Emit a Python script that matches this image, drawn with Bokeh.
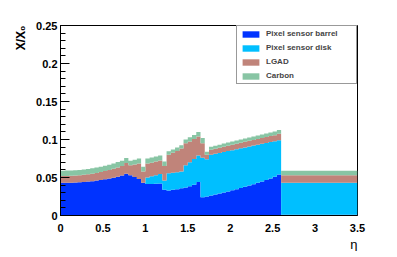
import numpy as np
from bokeh.plotting import figure
from bokeh.models import FixedTicker, Legend, LegendItem, Title, Range1d
from bokeh.embed import file_html
from bokeh.resources import INLINE

# eta binning
eta_min, eta_max, bin_width = 0.0, 3.5, 0.05

# material budget per layer (X/X0) in each eta bin
barrel = [0.0430, 0.0431, 0.0432, 0.0434, 0.0437, 0.0441, 0.0446, 0.0452, 0.0459, 0.0467,
          0.0476, 0.0486, 0.0497, 0.0510, 0.0525, 0.0550, 0.0530, 0.0505, 0.0480, 0.0430,
          0.0415, 0.0415, 0.0417, 0.0420, 0.0340, 0.0330, 0.0338, 0.0347, 0.0357, 0.0370,
          0.0385, 0.0405, 0.0440, 0.0240, 0.0250, 0.0262, 0.0275, 0.0288, 0.0302, 0.0316,
          0.0331, 0.0346, 0.0362, 0.0378, 0.0395, 0.0412, 0.0430, 0.0449, 0.0468, 0.0488,
          0.0510, 0.0540, 0.0010, 0.0010, 0.0010, 0.0010, 0.0010, 0.0010, 0.0010, 0.0010,
          0.0010, 0.0010, 0.0010, 0.0010, 0.0010, 0.0010, 0.0010, 0.0010, 0.0010, 0.0010]
disk = [0.0, 0.0, 0.0, 0.0, 0.0, 0.0, 0.0, 0.0, 0.0, 0.0,
        0.0, 0.0, 0.0, 0.0, 0.0, 0.0, 0.0, 0.0, 0.0, 0.0,
        0.0085, 0.0100, 0.0113, 0.0125, 0.0120, 0.0225, 0.0224, 0.0223, 0.0223, 0.0290,
        0.0315, 0.0340, 0.0350, 0.0520, 0.0490, 0.0538, 0.0537, 0.0536, 0.0534, 0.0532,
        0.0529, 0.0526, 0.0522, 0.0518, 0.0513, 0.0508, 0.0502, 0.0495, 0.0487, 0.0478,
        0.0467, 0.0450, 0.0420, 0.0420, 0.0420, 0.0420, 0.0420, 0.0420, 0.0420, 0.0420,
        0.0420, 0.0420, 0.0420, 0.0420, 0.0420, 0.0420, 0.0420, 0.0420, 0.0420, 0.0420]
lgad = [0.0090, 0.0090, 0.0091, 0.0092, 0.0093, 0.0094, 0.0096, 0.0098, 0.0101, 0.0104,
        0.0108, 0.0112, 0.0117, 0.0122, 0.0127, 0.0140, 0.0130, 0.0167, 0.0205, 0.0150,
        0.0185, 0.0180, 0.0180, 0.0180, 0.0190, 0.0245, 0.0263, 0.0280, 0.0300, 0.0290,
        0.0275, 0.0260, 0.0250, 0.0190, 0.0060, 0.0065, 0.0066, 0.0067, 0.0068, 0.0069,
        0.0070, 0.0071, 0.0072, 0.0073, 0.0074, 0.0075, 0.0076, 0.0077, 0.0078, 0.0079,
        0.0080, 0.0085, 0.0100, 0.0100, 0.0100, 0.0100, 0.0100, 0.0100, 0.0100, 0.0100,
        0.0100, 0.0100, 0.0100, 0.0100, 0.0100, 0.0100, 0.0100, 0.0100, 0.0100, 0.0100]
carbon = [0.0070, 0.0070, 0.0070, 0.0070, 0.0070, 0.0071, 0.0071, 0.0071, 0.0071, 0.0071,
          0.0071, 0.0071, 0.0071, 0.0071, 0.0070, 0.0065, 0.0060, 0.0063, 0.0065, 0.0060,
          0.0065, 0.0067, 0.0065, 0.0065, 0.0060, 0.0045, 0.0045, 0.0045, 0.0045, 0.0050,
          0.0055, 0.0055, 0.0060, 0.0070, 0.0040, 0.0040, 0.0041, 0.0041, 0.0042, 0.0042,
          0.0043, 0.0043, 0.0044, 0.0044, 0.0045, 0.0045, 0.0046, 0.0046, 0.0047, 0.0047,
          0.0048, 0.0050, 0.0060, 0.0060, 0.0060, 0.0060, 0.0060, 0.0060, 0.0060, 0.0060,
          0.0060, 0.0060, 0.0060, 0.0060, 0.0060, 0.0060, 0.0060, 0.0060, 0.0060, 0.0060]

series_names = ["Pixel sensor barrel", "Pixel sensor disk", "LGAD", "Carbon"]
series_colors = ["#0033FF", "#00BFFF", "#C0847A", "#88C5A4"]

x_ticks = [0, 0.5, 1, 1.5, 2, 2.5, 3, 3.5]
x_tick_labels = ["0", "0.5", "1", "1.5", "2", "2.5", "3", "3.5"]
y_ticks = [0, 0.05, 0.1, 0.15, 0.2, 0.25]
y_tick_labels = ["0", "0.05", "0.1", "0.15", "0.2", "0.25"]
y_minor = [round(0.01 * i, 2) for i in range(26)]

x_title = "η"
y_title = "X/X₀"

FONT = "Liberation Sans"

p = figure(frame_width=297, frame_height=190, output_backend="svg", toolbar_location=None,
           x_range=Range1d(eta_min, eta_max), y_range=Range1d(0, 0.25),
           min_border_left=60, min_border_right=32, min_border_top=25, min_border_bottom=34)
p.background_fill_color = "white"
p.border_fill_color = "white"
p.outline_line_color = "black"
p.outline_line_width = 1
p.grid.visible = False

n = len(barrel)
edges = np.linspace(eta_min, eta_max, n + 1)
bottom = np.zeros(n)
renderers = []
for vals, name, col in zip([barrel, disk, lgad, carbon], series_names, series_colors):
    v = np.asarray(vals)
    top = bottom + v
    y1 = np.append(bottom, bottom[-1])
    y2 = np.append(top, top[-1])
    r = p.varea_step(x=edges, y1=y1, y2=y2, step_mode="after", fill_color=col, fill_alpha=1.0)
    renderers.append(r)
    bottom = top

# axes
xa = p.xaxis[0]
xa.ticker = FixedTicker(ticks=x_ticks)
xa.major_label_overrides = {t: l for t, l in zip(x_ticks, x_tick_labels)}
xa.major_tick_in = 0
xa.major_tick_out = 0
xa.minor_tick_in = 0
xa.minor_tick_out = 0
xa.major_label_standoff = 8
xa.major_label_text_font = FONT
xa.major_label_text_font_style = "bold"
xa.major_label_text_font_size = "11px"
xa.major_label_text_color = "black"
xa.axis_line_color = "black"

ya = p.yaxis[0]
ya.ticker = FixedTicker(ticks=y_ticks, minor_ticks=y_minor)
ya.major_label_overrides = {t: l for t, l in zip(y_ticks, y_tick_labels)}
ya.major_tick_in = 9
ya.major_tick_out = 0
ya.minor_tick_in = 5
ya.minor_tick_out = 0
ya.major_tick_line_color = "black"
ya.minor_tick_line_color = "black"
ya.major_label_standoff = 3
ya.major_label_text_font = FONT
ya.major_label_text_font_style = "bold"
ya.major_label_text_font_size = "11px"
ya.major_label_text_color = "black"
ya.axis_line_color = "black"

# axis titles (placed at the far end of each axis, ROOT style)
p.add_layout(Title(text=x_title, align="right", text_font=FONT, text_font_style="normal",
                   text_font_size="13px", text_color="black", standoff=0), "below")
p.add_layout(Title(text=y_title, align="right", text_font=FONT, text_font_style="bold",
                   text_font_size="12px", text_color="black", standoff=12), "left")

legend = Legend(items=[LegendItem(label=nm, renderers=[r]) for nm, r in zip(series_names, renderers)],
                location="top_right", margin=0, padding=3, spacing=5,
                glyph_width=21, glyph_height=8, label_height=8, label_width=87,
                label_standoff=5, label_text_font=FONT, label_text_font_style="bold",
                label_text_font_size="8px", border_line_color="#333333", border_line_width=1,
                background_fill_color="white", background_fill_alpha=1.0)
p.add_layout(legend)

open("out.html", "w").write(file_html(p, INLINE))
